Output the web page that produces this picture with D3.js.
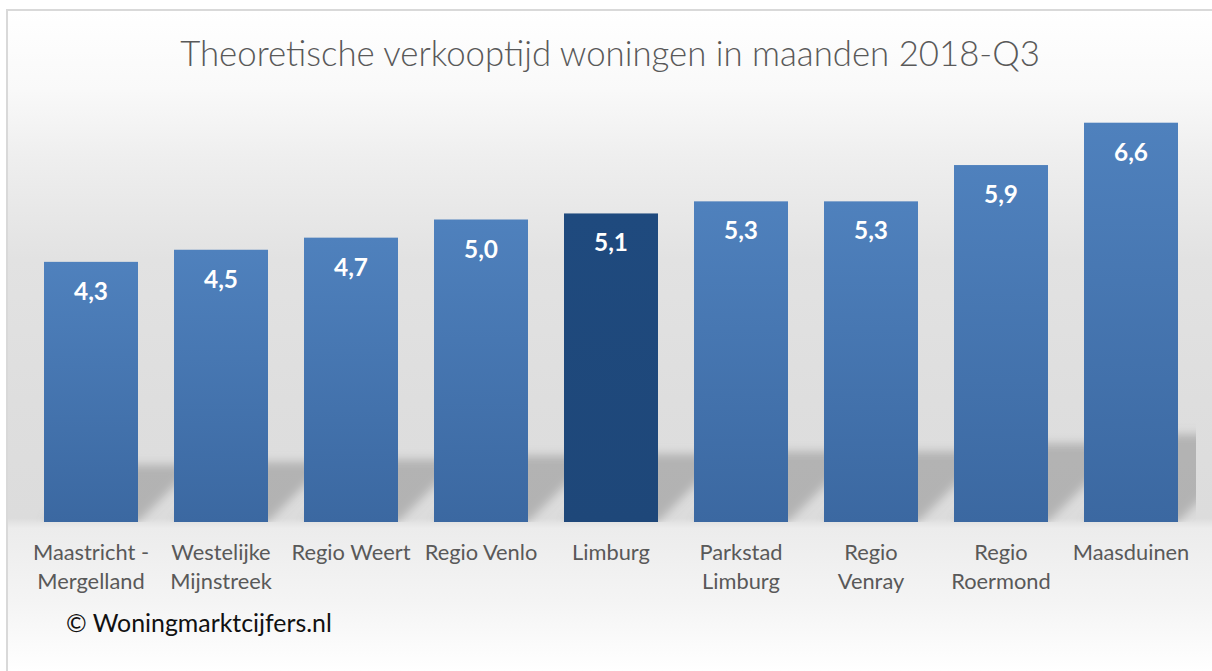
<!DOCTYPE html>
<html>
<head>
<meta charset="utf-8">
<script src="https://cdn.jsdelivr.net/npm/d3@7"></script>
<style>
  html, body { margin: 0; padding: 0; background: #fff; }
  svg { display: block; }
</style>
</head>
<body>
<div id="chart"></div>
<script>
// data
const regions = ['Maastricht - Mergelland', 'Westelijke Mijnstreek', 'Regio Weert', 'Regio Venlo',
  'Limburg', 'Parkstad Limburg', 'Regio Venray', 'Regio Roermond', 'Maasduinen'];
const labelLines = [['Maastricht -', 'Mergelland'], ['Westelijke', 'Mijnstreek'], ['Regio Weert'],
  ['Regio Venlo'], ['Limburg'], ['Parkstad', 'Limburg'], ['Regio', 'Venray'], ['Regio', 'Roermond'], ['Maasduinen']];
const months = [4.3, 4.5, 4.7, 5.0, 5.1, 5.3, 5.3, 5.9, 6.6];
const highlight = 'Limburg';

const W = 1212, H = 671;
const font = 'Lato, "Open Sans", sans-serif';
const base = 522;

const svg = d3.select('#chart').append('svg')
  .attr('width', W).attr('height', H);

const defs = svg.append('defs');

const bg = defs.append('linearGradient').attr('id', 'bg')
  .attr('gradientUnits', 'userSpaceOnUse')
  .attr('x1', 0).attr('y1', 10).attr('x2', 0).attr('y2', H);
[[10, '#ffffff'], [90, '#f9f9f9'], [160, '#eeeeee'], [260, '#e2e2e2'], [400, '#dedede'],
 [518, '#dcdcdc'], [528, '#ececec'], [600, '#f4f4f4'], [671, '#ffffff']].forEach(([y, c]) => {
  bg.append('stop').attr('offset', (y - 10) / (H - 10)).attr('stop-color', c);
});

const barGrad = defs.append('linearGradient').attr('id', 'barGrad')
  .attr('x1', 0).attr('y1', 0).attr('x2', 0).attr('y2', 1);
barGrad.append('stop').attr('offset', 0).attr('stop-color', '#4f81bd');
barGrad.append('stop').attr('offset', 1).attr('stop-color', '#3b68a1');

const darkGrad = defs.append('linearGradient').attr('id', 'darkGrad')
  .attr('x1', 0).attr('y1', 0).attr('x2', 0).attr('y2', 1);
darkGrad.append('stop').attr('offset', 0).attr('stop-color', '#1f4a7e');
darkGrad.append('stop').attr('offset', 1).attr('stop-color', '#1e4779');

defs.append('filter').attr('id', 'blur')
  .attr('x', '-20%').attr('y', '-20%').attr('width', '140%').attr('height', '140%')
  .append('feGaussianBlur').attr('stdDeviation', 5);

defs.append('clipPath').attr('id', 'plotClip')
  .append('rect').attr('x', 26).attr('y', 80).attr('width', 1170).attr('height', base - 80);

// chart area with light border
svg.append('rect')
  .attr('x', 7).attr('y', 10).attr('width', W + 20).attr('height', H + 20)
  .attr('fill', 'url(#bg)').attr('stroke', '#d9d9d9').attr('stroke-width', 2);

function fit(sel, target) {
  const len = sel.node().getComputedTextLength();
  const fs = parseFloat(sel.attr('font-size'));
  sel.attr('font-size', (fs * target / len).toFixed(2));
}

const title = svg.append('text')
  .attr('x', 610).attr('y', 66)
  .attr('text-anchor', 'middle')
  .attr('font-family', font).attr('font-weight', 300).attr('font-size', 34)
  .attr('fill', '#595959')
  .text('Theoretische verkooptijd woningen in maanden 2018-Q3');
fit(title, 860);

const x = d3.scaleBand().domain(regions).range([26, 1196])
  .paddingInner(0.277).paddingOuter(0.1385);
const y = d3.scaleLinear().domain([0, 7]).range([base, base - 7 * 60.5]);

// perspective shadows behind the bars
const shadowG = svg.append('g').attr('clip-path', 'url(#plotClip)')
  .append('g').attr('filter', 'url(#blur)');
shadowG.selectAll('polygon')
  .data(regions)
  .join('polygon')
  .attr('points', (d, i) => {
    const x0 = x(d), x1 = x(d) + x.bandwidth();
    const s = 0.22 * (base - y(months[i]));
    return [[x0, base], [x1, base], [x1 + s, base - s], [x0 + s, base - s]].join(' ');
  })
  .attr('fill', '#8f8f8f')
  .attr('opacity', 0.55);

svg.append('g').selectAll('rect')
  .data(regions)
  .join('rect')
  .attr('x', d => x(d))
  .attr('y', (d, i) => y(months[i]))
  .attr('width', x.bandwidth())
  .attr('height', (d, i) => base - y(months[i]))
  .attr('fill', d => d === highlight ? 'url(#darkGrad)' : 'url(#barGrad)');

// value labels
const vals = svg.append('g').selectAll('text')
  .data(regions)
  .join('text')
  .attr('x', d => x(d) + x.bandwidth() / 2)
  .attr('y', (d, i) => y(months[i]) + 38)
  .attr('text-anchor', 'middle')
  .attr('font-family', font).attr('font-weight', 'bold').attr('font-size', 22)
  .attr('fill', '#fff')
  .text((d, i) => d3.format('.1f')(months[i]).replace('.', ','));
{
  const len = vals.nodes()[0].getComputedTextLength();
  vals.attr('font-size', (22 * 34 / len).toFixed(2));
}

// category labels
const cats = svg.append('g').selectAll('text')
  .data(regions)
  .join('text')
  .attr('x', d => x(d) + x.bandwidth() / 2)
  .attr('y', 560)
  .attr('text-anchor', 'middle')
  .attr('font-family', font).attr('font-size', 20)
  .attr('fill', '#595959');
cats.selectAll('tspan')
  .data((d, i) => labelLines[i].map(t => ({ t, cx: x(d) + x.bandwidth() / 2 })))
  .join('tspan')
  .attr('x', d => d.cx)
  .attr('dy', (d, j) => j ? 29 : 0)
  .text(d => d.t);
{
  const len = cats.nodes()[2].getComputedTextLength();
  cats.attr('font-size', (20 * 119 / len).toFixed(2));
}

const copy = svg.append('text')
  .attr('x', 66).attr('y', 632)
  .attr('font-family', font).attr('font-size', 22)
  .attr('fill', '#111')
  .text('© Woningmarktcijfers.nl');
fit(copy, 266);
</script>
</body>
</html>
